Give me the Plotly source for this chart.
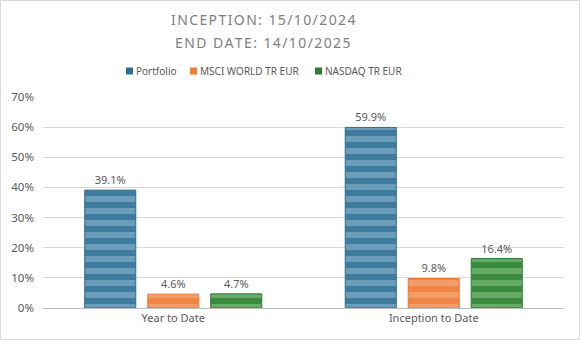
import plotly.graph_objects as go

categories = ["Year to Date", "Inception to Date"]
series_names = ["Portfolio", "MSCI WORLD TR EUR", "NASDAQ TR EUR"]
portfolio = [0.391, 0.599]
msci = [0.046, 0.098]
nasdaq = [0.047, 0.164]
y_ticks = [0, 0.1, 0.2, 0.3, 0.4, 0.5, 0.6, 0.7]
title_lines = ["INCEPTION: 15/10/2024", "END DATE: 14/10/2025"]

styles = [
    dict(bg="#3f7b9c", fg="#93c0d6", line="#2f6a8a", key="#2e6e92"),
    dict(bg="#ef8443", fg="#f7b890", line="#ea7634", key="#ed7d31"),
    dict(bg="#3a8a40", fg="#92cb8f", line="#2e7b34", key="#2e7d32"),
]

W, H = 580, 340
ml, mr, mt, mb = 43, 16, 97, 32
pw, ph = W - ml - mr, H - mt - mb

def px_x(x):
    return (x - ml) / pw

def px_y(y):
    return (H - mb - y) / ph

fig = go.Figure()
for name, vals, st in zip(series_names, [portfolio, msci, nasdaq], styles):
    fig.add_trace(go.Bar(
        name=name, x=categories, y=vals, showlegend=False,
        marker=dict(color=st["bg"], line=dict(color=st["line"], width=1),
                    pattern=dict(shape="-", fgcolor=st["fg"], bgcolor=st["bg"],
                                 size=12, solidity=0.5, fillmode="overlay")),
        texttemplate="%{y:.1%}", textposition="outside",
        textfont=dict(color="#595959", size=11),
        cliponaxis=False,
    ))

def spaced(s):
    return "\u200a".join(list(s))

annotations = []
for line, yc in zip(title_lines, [20, 42]):
    annotations.append(dict(
        text=spaced(line), xref="paper", yref="paper",
        x=px_x(263), y=px_y(yc),
        xanchor="center", yanchor="middle", showarrow=False,
        font=dict(size=14, color="#808080"),
    ))

shapes = [dict(
    type="rect", xref="paper", yref="paper",
    x0=(-ml + 0.5) / pw, x1=(pw + mr - 0.5) / pw,
    y0=(-mb + 0.5) / ph, y1=(ph + mt - 0.5) / ph,
    line=dict(color="#d9d9d9", width=1), layer="below",
)]

# legend: small square keys + labels
legend_x = [126, 190, 315]
legend_y = 71
for name, st, lx in zip(series_names, styles, legend_x):
    shapes.append(dict(
        type="rect", xref="paper", yref="paper",
        x0=px_x(lx), x1=px_x(lx + 7), y0=px_y(legend_y + 3.5), y1=px_y(legend_y - 3.5),
        fillcolor=st["key"], line=dict(width=0),
    ))
    annotations.append(dict(
        text=name, xref="paper", yref="paper",
        x=px_x(lx + 8), y=px_y(legend_y), xanchor="left", yanchor="middle",
        showarrow=False, font=dict(size=10, color="#595959"),
    ))

fig.update_layout(
    width=W, height=H,
    margin=dict(l=ml, r=mr, t=mt, b=mb),
    paper_bgcolor="white", plot_bgcolor="white",
    font=dict(family="Noto Sans, Arial, sans-serif", color="#595959", size=11),
    barmode="group", bargap=0.2745, bargroupgap=0.19,
    showlegend=False,
    annotations=annotations,
    shapes=shapes,
    xaxis=dict(showgrid=False, showline=True, linecolor="#bfbfbf", linewidth=1,
               ticks="", tickfont=dict(size=11, color="#595959")),
    yaxis=dict(range=[0, 0.7], tickvals=y_ticks, tickformat=".0%",
               showgrid=True, gridcolor="#d9d9d9", gridwidth=1,
               zeroline=False, showline=False, ticks="", ticklabelstandoff=8,
               tickfont=dict(size=11.5, color="#595959")),
)

fig.write_html("out.html")
